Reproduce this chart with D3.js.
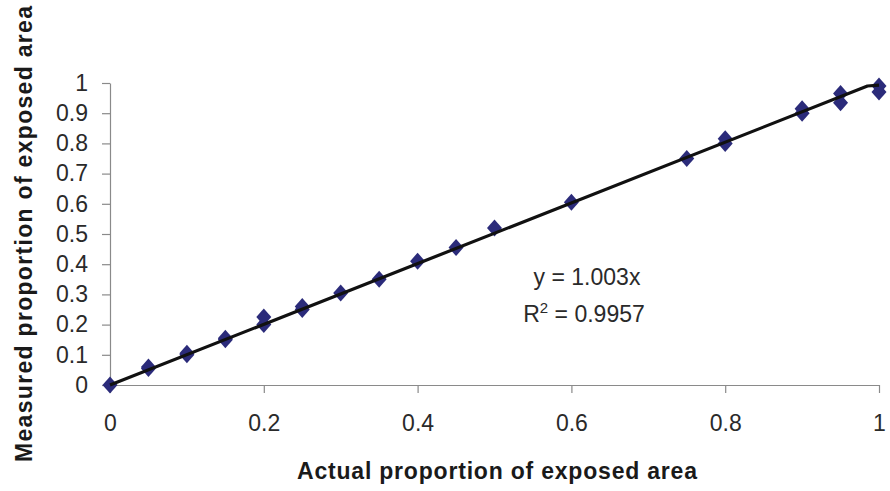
<!DOCTYPE html>
<html>
<head>
<meta charset="utf-8">
<script src="https://cdn.jsdelivr.net/npm/d3@7"></script>
<style>
  body { margin: 0; background: #fff; }
  #chart { width: 890px; height: 491px; }
  .axis path, .axis line { stroke: #8a8a8a; stroke-width: 1.2; }
  .axis text { font-family: "Liberation Sans", Arial, sans-serif; font-size: 23px; fill: #2a2a2a; }
  .axisLabel { font-family: "Liberation Sans", Arial, sans-serif; font-weight: bold; font-size: 23px; fill: #1a1a1a; }
  .eq { font-family: "Liberation Sans", Arial, sans-serif; font-size: 23px; fill: #2a2a2a; }
</style>
</head>
<body>
<div id="chart"></div>
<script>
// measured points: actual proportion vs measured proportion
const actual = [0, 0.05, 0.05, 0.1, 0.1, 0.15, 0.15, 0.2, 0.2, 0.25, 0.25, 0.3, 0.35, 0.4, 0.45, 0.5, 0.6, 0.75, 0.8, 0.8, 0.9, 0.9, 0.95, 0.95, 1, 1];
const measured = [0, 0.055, 0.06, 0.1, 0.105, 0.15, 0.155, 0.2, 0.225, 0.25, 0.26, 0.305, 0.35, 0.41, 0.455, 0.52, 0.605, 0.75, 0.8, 0.815, 0.9, 0.915, 0.935, 0.965, 0.97, 0.99];

// black trend line as drawn (bends flat at the very end)
const lineX = [0, 0.985, 1];
const lineY = [0, 0.99, 0.993];

const xTicks = [0, 0.2, 0.4, 0.6, 0.8, 1];
const yTicks = [0, 0.1, 0.2, 0.3, 0.4, 0.5, 0.6, 0.7, 0.8, 0.9, 1];

const width = 890;
const height = 491;
const margin = { top: 83, left: 110, right: 11, bottom: 106 };

const svg = d3.select("#chart")
  .append("svg")
  .attr("width", width)
  .attr("height", height);

const xScale = d3.scaleLinear()
  .domain([0, 1])
  .range([margin.left, width - margin.right]);

const yScale = d3.scaleLinear()
  .domain([0, 1])
  .range([height - margin.bottom, margin.top]);

// axes
const xAxis = svg.append("g")
  .attr("class", "axis")
  .attr("transform", `translate(0,${height - margin.bottom})`)
  .call(d3.axisBottom(xScale).tickValues(xTicks).tickSize(8).tickSizeOuter(0)
    .tickFormat(d => d3.format("")(d)));

const yAxis = svg.append("g")
  .attr("class", "axis")
  .attr("transform", `translate(${margin.left},0)`)
  .call(d3.axisLeft(yScale).tickValues(yTicks).tickSize(8).tickSizeOuter(0).tickPadding(14)
    .tickFormat(d => d3.format("")(d)));

xAxis.selectAll("text").attr("dy", "0.35em").attr("y", 38);

// diamonds
const points = actual.map((x, i) => ({ x: x, y: measured[i] }));
svg.selectAll(".pt")
  .data(points)
  .enter()
  .append("path")
    .attr("class", "pt")
    .attr("transform", d => `translate(${xScale(d.x)},${yScale(d.y)})`)
    .attr("d", "M0,-8.5 L7.5,0 L0,8.5 L-7.5,0 Z")
    .attr("fill", "#2b2b7a");

// trend line on top of the markers
const lineData = lineX.map((x, i) => ({ x: x, y: lineY[i] }));
svg.append("path")
  .datum(lineData)
  .attr("fill", "none")
  .attr("stroke", "#111")
  .attr("stroke-width", 3.2)
  .attr("stroke-linejoin", "round")
  .attr("d", d3.line().x(d => xScale(d.x)).y(d => yScale(d.y)));

// equation
svg.append("text")
  .attr("class", "eq")
  .attr("x", 587)
  .attr("y", 285)
  .attr("text-anchor", "middle")
  .text("y = 1.003x");

const r2 = svg.append("text")
  .attr("class", "eq")
  .attr("x", 584)
  .attr("y", 322)
  .attr("text-anchor", "middle");
r2.append("tspan").text("R");
r2.append("tspan").attr("dy", -9).attr("font-size", 15).text("2");
r2.append("tspan").attr("dy", 9).text(" = 0.9957");

// axis labels
svg.append("text")
  .attr("class", "axisLabel")
  .attr("x", 497)
  .attr("y", 479)
  .attr("text-anchor", "middle")
  .attr("textLength", 400)
  .attr("lengthAdjust", "spacing")
  .text("Actual proportion of exposed area");

svg.append("text")
  .attr("class", "axisLabel")
  .attr("transform", "rotate(-90)")
  .attr("x", -234)
  .attr("y", 32)
  .attr("text-anchor", "middle")
  .attr("textLength", 456)
  .attr("lengthAdjust", "spacing")
  .text("Measured proportion of exposed area");
</script>
</body>
</html>
